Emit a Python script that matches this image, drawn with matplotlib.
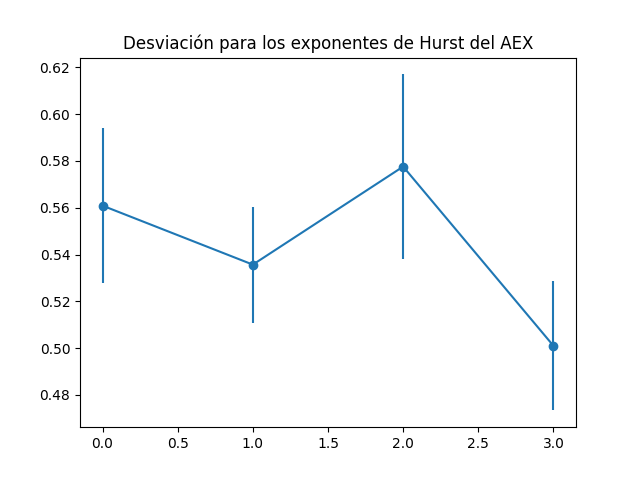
import matplotlib
matplotlib.use("Agg")
import matplotlib.pyplot as plt

x = [0, 1, 2, 3]
hurst = [0.5609, 0.5357, 0.5776, 0.5010]
desv = [0.0332, 0.0248, 0.0394, 0.0276]

fig, ax = plt.subplots(figsize=(6.4, 4.8), dpi=100)
ax.errorbar(x, hurst, yerr=desv, fmt="-o")
ax.set_title("Desviación para los exponentes de Hurst del AEX")
fig.savefig("out.png")
